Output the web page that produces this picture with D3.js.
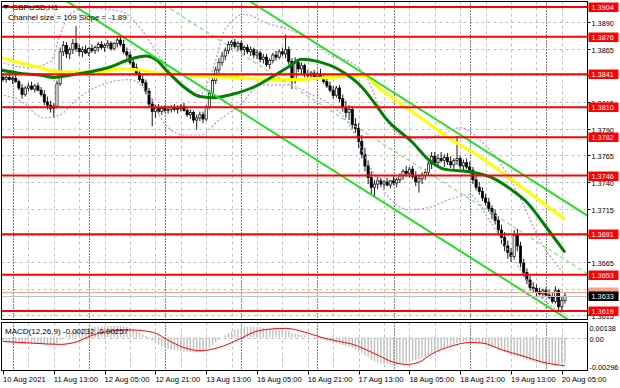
<!DOCTYPE html>
<html><head><meta charset="utf-8">
<script src="https://cdn.jsdelivr.net/npm/d3@7"></script>
<style>body{margin:0;background:#fff}svg{display:block}text{font-family:"Liberation Sans",Arial,sans-serif;font-size:8px}.ax{font-size:7.3px}</style>
</head><body><svg id="c" width="620" height="388"></svg>
<script>
// ---------- DATA ----------
const openP=[1.3838,1.3836,1.3838,1.3836,1.3837,1.3834,1.3828,1.3822,1.3828,1.3830,1.3827,1.3830,1.3826,1.3822,1.3815,1.3812,1.3809,1.3811,1.3832,1.3862,1.3868,1.3860,1.3864,1.3870,1.3865,1.3862,1.3864,1.3861,1.3865,1.3863,1.3866,1.3869,1.3866,1.3868,1.3870,1.3865,1.3870,1.3873,1.3869,1.3862,1.3859,1.3852,1.3847,1.3842,1.3836,1.3833,1.3825,1.3813,1.3806,1.3809,1.3806,1.3809,1.3807,1.3808,1.3810,1.3808,1.3809,1.3811,1.3807,1.3803,1.3805,1.3798,1.3800,1.3803,1.3799,1.3810,1.3823,1.3835,1.3845,1.3852,1.3858,1.3863,1.3869,1.3871,1.3867,1.3870,1.3864,1.3866,1.3862,1.3864,1.3859,1.3861,1.3855,1.3857,1.3850,1.3854,1.3859,1.3857,1.3862,1.3860,1.3864,1.3853,1.3835,1.3852,1.3846,1.3849,1.3841,1.3840,1.3842,1.3839,1.3841,1.3838,1.3834,1.3830,1.3826,1.3821,1.3828,1.3818,1.3810,1.3805,1.3808,1.3794,1.3790,1.3778,1.3766,1.3755,1.3744,1.3735,1.3738,1.3741,1.3738,1.3740,1.3737,1.3741,1.3739,1.3742,1.3746,1.3750,1.3748,1.3752,1.3745,1.3740,1.3743,1.3746,1.3749,1.3757,1.3764,1.3758,1.3762,1.3760,1.3763,1.3759,1.3756,1.3760,1.3762,1.3755,1.3758,1.3754,1.3751,1.3742,1.3735,1.3731,1.3725,1.3721,1.3715,1.3710,1.3704,1.3695,1.3688,1.3680,1.3674,1.3670,1.3690,1.3680,1.3664,1.3655,1.3648,1.3641,1.3640,1.3637,1.3635,1.3638,1.3634,1.3632,1.3628,1.3638,1.3623,1.3629];
const highP=[1.3842,1.3840,1.3841,1.3839,1.3840,1.3836,1.3832,1.3830,1.3833,1.3834,1.3832,1.3833,1.3829,1.3826,1.3820,1.3816,1.3814,1.3835,1.3866,1.3872,1.3871,1.3866,1.3874,1.3886,1.3869,1.3867,1.3868,1.3866,1.3869,1.3868,1.3871,1.3872,1.3870,1.3873,1.3872,1.3871,1.3875,1.3876,1.3873,1.3866,1.3862,1.3855,1.3851,1.3846,1.3840,1.3836,1.3828,1.3818,1.3812,1.3813,1.3811,1.3812,1.3811,1.3812,1.3813,1.3812,1.3813,1.3814,1.3810,1.3808,1.3807,1.3803,1.3806,1.3806,1.3812,1.3826,1.3838,1.3848,1.3856,1.3862,1.3866,1.3872,1.3873,1.3874,1.3872,1.3872,1.3868,1.3869,1.3867,1.3866,1.3864,1.3863,1.3860,1.3860,1.3856,1.3861,1.3863,1.3864,1.3866,1.3878,1.3867,1.3856,1.3857,1.3855,1.3852,1.3851,1.3845,1.3844,1.3845,1.3843,1.3846,1.3841,1.3838,1.3834,1.3830,1.3830,1.3831,1.3822,1.3816,1.3812,1.3811,1.3800,1.3795,1.3784,1.3772,1.3760,1.3750,1.3742,1.3745,1.3744,1.3742,1.3744,1.3742,1.3745,1.3744,1.3748,1.3752,1.3755,1.3754,1.3755,1.3750,1.3746,1.3749,1.3752,1.3760,1.3768,1.3768,1.3766,1.3768,1.3766,1.3767,1.3764,1.3762,1.3783,1.3765,1.3761,1.3762,1.3759,1.3754,1.3746,1.3740,1.3735,1.3729,1.3725,1.3718,1.3714,1.3708,1.3700,1.3693,1.3685,1.3678,1.3695,1.3696,1.3684,1.3668,1.3659,1.3652,1.3646,1.3644,1.3641,1.3640,1.3641,1.3639,1.3636,1.3642,1.3640,1.3632,1.3636];
const lowP=[1.3834,1.3833,1.3835,1.3832,1.3833,1.3826,1.3818,1.3820,1.3825,1.3826,1.3824,1.3825,1.3820,1.3812,1.3808,1.3805,1.3800,1.3809,1.3830,1.3858,1.3856,1.3855,1.3860,1.3862,1.3858,1.3857,1.3860,1.3858,1.3861,1.3860,1.3862,1.3864,1.3862,1.3865,1.3863,1.3863,1.3866,1.3867,1.3860,1.3856,1.3850,1.3844,1.3840,1.3834,1.3830,1.3822,1.3810,1.3792,1.3800,1.3804,1.3803,1.3805,1.3804,1.3805,1.3806,1.3804,1.3806,1.3806,1.3801,1.3799,1.3795,1.3789,1.3797,1.3795,1.3797,1.3808,1.3820,1.3832,1.3842,1.3849,1.3854,1.3860,1.3864,1.3865,1.3863,1.3862,1.3859,1.3860,1.3858,1.3856,1.3855,1.3852,1.3851,1.3848,1.3846,1.3851,1.3854,1.3855,1.3858,1.3856,1.3850,1.3827,1.3832,1.3843,1.3841,1.3838,1.3836,1.3836,1.3837,1.3835,1.3837,1.3832,1.3828,1.3824,1.3818,1.3819,1.3815,1.3806,1.3800,1.3798,1.3790,1.3786,1.3772,1.3762,1.3750,1.3738,1.3728,1.3725,1.3733,1.3735,1.3734,1.3736,1.3734,1.3737,1.3735,1.3739,1.3742,1.3745,1.3744,1.3743,1.3736,1.3730,1.3738,1.3742,1.3746,1.3752,1.3755,1.3754,1.3758,1.3754,1.3756,1.3753,1.3752,1.3756,1.3752,1.3751,1.3752,1.3748,1.3738,1.3732,1.3728,1.3722,1.3718,1.3712,1.3705,1.3700,1.3690,1.3682,1.3675,1.3668,1.3665,1.3668,1.3675,1.3660,1.3651,1.3644,1.3638,1.3636,1.3633,1.3632,1.3631,1.3632,1.3630,1.3626,1.3626,1.3618,1.3620,1.3626];
const closeP=[1.3836,1.3838,1.3836,1.3837,1.3834,1.3828,1.3822,1.3828,1.3830,1.3827,1.3830,1.3826,1.3822,1.3815,1.3812,1.3809,1.3811,1.3832,1.3862,1.3868,1.3860,1.3864,1.3870,1.3865,1.3862,1.3864,1.3861,1.3865,1.3863,1.3866,1.3869,1.3866,1.3868,1.3870,1.3865,1.3870,1.3873,1.3869,1.3862,1.3859,1.3852,1.3847,1.3842,1.3836,1.3833,1.3825,1.3813,1.3806,1.3809,1.3806,1.3809,1.3807,1.3808,1.3810,1.3808,1.3809,1.3811,1.3807,1.3803,1.3805,1.3798,1.3800,1.3803,1.3799,1.3810,1.3823,1.3835,1.3845,1.3852,1.3858,1.3863,1.3869,1.3871,1.3867,1.3870,1.3864,1.3866,1.3862,1.3864,1.3859,1.3861,1.3855,1.3857,1.3850,1.3854,1.3859,1.3857,1.3862,1.3860,1.3864,1.3853,1.3835,1.3852,1.3846,1.3849,1.3841,1.3840,1.3842,1.3839,1.3841,1.3838,1.3834,1.3830,1.3826,1.3821,1.3828,1.3818,1.3810,1.3805,1.3808,1.3794,1.3790,1.3778,1.3766,1.3755,1.3744,1.3735,1.3738,1.3741,1.3738,1.3740,1.3737,1.3741,1.3739,1.3742,1.3746,1.3750,1.3748,1.3752,1.3745,1.3740,1.3743,1.3746,1.3749,1.3757,1.3764,1.3758,1.3762,1.3760,1.3763,1.3759,1.3756,1.3760,1.3762,1.3755,1.3758,1.3754,1.3751,1.3742,1.3735,1.3731,1.3725,1.3721,1.3715,1.3710,1.3704,1.3695,1.3688,1.3680,1.3674,1.3670,1.3690,1.3680,1.3664,1.3655,1.3648,1.3641,1.3640,1.3637,1.3635,1.3638,1.3634,1.3632,1.3628,1.3638,1.3623,1.3629,1.3633];

const macdMain=[-0.00040,-0.00042,-0.00045,-0.00048,-0.00050,-0.00055,-0.00060,-0.00062,-0.00060,-0.00060,-0.00058,-0.00058,-0.00060,-0.00064,-0.00068,-0.00070,-0.00068,-0.00055,-0.00025,0.00005,0.00025,0.00040,0.00055,0.00068,0.00075,0.00080,0.00084,0.00088,0.00092,0.00096,0.00100,0.00102,0.00104,0.00106,0.00105,0.00106,0.00108,0.00108,0.00104,0.00098,0.00088,0.00076,0.00062,0.00046,0.00030,0.00014,-0.00005,-0.00028,-0.00050,-0.00066,-0.00080,-0.00092,-0.00102,-0.00110,-0.00116,-0.00120,-0.00124,-0.00128,-0.00130,-0.00132,-0.00134,-0.00136,-0.00132,-0.00126,-0.00112,-0.00092,-0.00068,-0.00044,-0.00020,0.00002,0.00022,0.00040,0.00056,0.00070,0.00080,0.00088,0.00094,0.00098,0.00100,0.00100,0.00098,0.00094,0.00088,0.00082,0.00076,0.00072,0.00068,0.00066,0.00064,0.00064,0.00058,0.00042,0.00036,0.00030,0.00024,0.00016,0.00008,0.00002,-0.00004,-0.00010,-0.00016,-0.00022,-0.00030,-0.00038,-0.00046,-0.00050,-0.00058,-0.00068,-0.00078,-0.00086,-0.00098,-0.00110,-0.00126,-0.00144,-0.00162,-0.00182,-0.00204,-0.00218,-0.00228,-0.00236,-0.00242,-0.00246,-0.00248,-0.00250,-0.00248,-0.00244,-0.00238,-0.00230,-0.00222,-0.00214,-0.00206,-0.00198,-0.00188,-0.00176,-0.00162,-0.00146,-0.00132,-0.00120,-0.00108,-0.00096,-0.00084,-0.00074,-0.00064,-0.00050,-0.00042,-0.00036,-0.00032,-0.00030,-0.00034,-0.00042,-0.00050,-0.00058,-0.00066,-0.00076,-0.00086,-0.00096,-0.00108,-0.00120,-0.00134,-0.00148,-0.00160,-0.00166,-0.00172,-0.00182,-0.00192,-0.00202,-0.00212,-0.00222,-0.00230,-0.00236,-0.00240,-0.00244,-0.00246,-0.00248,-0.00246,-0.00246,-0.00240,-0.00232];
const signalBars=[0,9,18,23,28,34,40,47,53,58,62,68,74,79,85,89,95,100,105,110,118,123,127,131,135,141,147,151,157,164,170,177];
const signalVals=[-0.00036,-0.00050,-0.00062,-0.00040,0.00020,0.00060,0.00070,0.00050,-0.00040,-0.00100,-0.00120,-0.00090,-0.00020,0.00050,0.00080,0.00085,0.00050,0.00005,-0.00030,-0.00060,-0.00160,-0.00225,-0.00245,-0.00225,-0.00150,-0.00080,-0.00045,-0.00050,-0.00110,-0.00170,-0.00225,-0.00257];

// moving averages (bar index, price)
const maSlowBars=[-1,5,12,18,24,30,37,43,49,56,62,74,84,93,103,109,114,118,125,133,140,150,162,177];
const maSlowVals=[1.3857,1.3852,1.3847,1.3843,1.3843,1.3843,1.3846,1.3845,1.3842,1.3841,1.3839,1.3838,1.3836,1.3836,1.3838,1.3839,1.3839,1.3829,1.3814,1.3797,1.3782,1.3764,1.3738,1.3705];
const maFastBars=[-1,5,12,16,21,27,34,40,45,48,52,57,62,66,72,79,85,90,94,99,106,113,117,121,129,134,139,148,154,160,165,171,177];
const maFastVals=[1.3845,1.3842,1.3840,1.3838,1.3840,1.3843,1.3848,1.3855,1.3858,1.3855,1.3843,1.3829,1.3820,1.3819,1.3822,1.3829,1.3839,1.3848,1.3855,1.3853,1.3845,1.3829,1.3814,1.3798,1.3777,1.3761,1.3752,1.3749,1.3744,1.3733,1.3721,1.3698,1.3674];
const bandUpBars=[-1,8,15,18,21,27,37,43,49,56,62,66,70,76,84,90,97,103,109,114,119,125,131,138,144,150,157,163,169,177];
const bandUpVals=[1.3853,1.3847,1.3853,1.3878,1.3897,1.3903,1.3900,1.3885,1.3859,1.3831,1.3822,1.3845,1.3883,1.3897,1.3888,1.3883,1.3873,1.3859,1.3853,1.3841,1.3808,1.3784,1.3780,1.3784,1.3791,1.3780,1.3756,1.3724,1.3686,1.3653];
const bandLoBars=[-1,5,13,18,23,31,40,46,51,57,62,68,75,81,90,97,103,109,116,122,128,134,141,147,153,160,166,172,177];
const bandLoVals=[1.3822,1.3817,1.3800,1.3803,1.3817,1.3831,1.3836,1.3822,1.3794,1.3784,1.3784,1.3798,1.3813,1.3831,1.3831,1.3822,1.3813,1.3794,1.3752,1.3724,1.3714,1.3716,1.3724,1.3728,1.3705,1.3672,1.3644,1.3625,1.3616];

// regression channel: two anchor bars, upper-line prices, width
const chanBars=[-5,185];
const chanUpper=[1.40658,1.37067];
const chanWidth=0.0109;

const levels=[1.3904,1.3876,1.3841,1.3810,1.3782,1.3746,1.3691,1.3653,1.3619];
const priceTicks=[1.3890,1.3865,1.3840,1.3815,1.3790,1.3765,1.3740,1.3715,1.3690,1.3665,1.3640,1.3615];
const bidPrice=1.3633, askPrice=1.3637;
const timeLabels=["10 Aug 2021","11 Aug 13:00","12 Aug 05:00","12 Aug 21:00","13 Aug 13:00","16 Aug 05:00","16 Aug 21:00","17 Aug 13:00","18 Aug 05:00","18 Aug 21:00","19 Aug 13:00","20 Aug 05:00"];
const timeBars=[0,16,32,48,64,80,96,112,128,144,160,176];
const gridBars=[8,16,24,32,40,48,56,64,72,80,88,96,104,112,120,128,136,144,152,160,168,176];
const dayBars=[3,27,51,75,99,123,147,171];
const macdLabels=["0.00138","0.00","-0.00296"];

// ---------- DRAW ----------
const svg=d3.select("#c");
const L=1.5,R=587.5,mT=1.5,mB=319.5,dT=322.5,dB=370.5;
const x=d3.scaleLinear().domain([0,177]).range([3,3+177*3.175]);
const y=d3.scaleLinear().domain([1.3619,1.3904]).range([311,7]);
const ym=d3.scaleLinear().domain([-0.00296,0.00138]).range([370,322.5]);
const defs=svg.append("defs");
defs.append("clipPath").attr("id","cm").append("rect").attr("x",L).attr("y",mT).attr("width",R-L).attr("height",mB-mT);
defs.append("clipPath").attr("id","cd").append("rect").attr("x",L).attr("y",dT).attr("width",R-L).attr("height",dB-dT);
svg.append("rect").attr("width",620).attr("height",388).attr("fill","#fff");
const gm=svg.append("g").attr("clip-path","url(#cm)");
const gd=svg.append("g").attr("clip-path","url(#cd)");
const px=v=>Math.round(v)+0.5;

// grid
gm.selectAll(".hg").data(priceTicks).join("line").attr("x1",L).attr("x2",R).attr("y1",d=>px(y(d))).attr("y2",d=>px(y(d))).attr("stroke","#c0c0c0").attr("stroke-dasharray","3,3");
gm.selectAll(".vg").data(gridBars).join("line").attr("x1",d=>px(x(d))).attr("x2",d=>px(x(d))).attr("y1",mT).attr("y2",mB).attr("stroke","#c0c0c0").attr("stroke-dasharray","3,3");
gd.selectAll(".vg").data(gridBars).join("line").attr("x1",d=>px(x(d))).attr("x2",d=>px(x(d))).attr("y1",dT).attr("y2",dB).attr("stroke","#c0c0c0").attr("stroke-dasharray","3,3");
gd.append("line").attr("x1",L).attr("x2",R).attr("y1",px(ym(0))).attr("y2",px(ym(0))).attr("stroke","#c0c0c0").attr("stroke-dasharray","3,3");
[gm,gd].forEach((g,k)=>g.selectAll(".sep").data(dayBars).join("line").attr("x1",d=>px(x(d))).attr("x2",d=>px(x(d))).attr("y1",k?dT:mT).attr("y2",k?dB:mB).attr("stroke","#000").attr("stroke-dasharray","1,2"));

// candles
const idx=d3.range(closeP.length);
gm.selectAll(".wick").data(idx).join("line").attr("x1",i=>x(i)).attr("x2",i=>x(i)).attr("y1",i=>y(highP[i])).attr("y2",i=>y(lowP[i])).attr("stroke","#000").attr("stroke-width",0.9);
gm.selectAll(".body").data(idx).join("rect").attr("x",i=>x(i)-1.1).attr("width",2.2)
  .attr("y",i=>y(Math.max(openP[i],closeP[i]))).attr("height",i=>Math.max(0.8,Math.abs(y(openP[i])-y(closeP[i]))))
  .attr("fill",i=>closeP[i]>=openP[i]?"#fff":"#000").attr("stroke","#000").attr("stroke-width",0.7);

// bands
const ln=(bars,vals,sc)=>d3.line().x((d,i)=>x(bars[i])).y(d=>sc(d)).curve(d3.curveMonotoneX)(vals);
[[bandUpBars,bandUpVals],[bandLoBars,bandLoVals]].forEach(([b,v])=>gm.append("path").attr("d",ln(b,v,y)).attr("fill","none").attr("stroke","#c58be8").attr("stroke-width",1.2).attr("stroke-dasharray","2,2"));
// MAs
gm.append("path").attr("d",ln(maSlowBars,maSlowVals,y)).attr("fill","none").attr("stroke","#ffff00").attr("stroke-width",3);
gm.append("path").attr("d",ln(maFastBars,maFastVals,y)).attr("fill","none").attr("stroke","#008000").attr("stroke-width",3);
// channel
const chan=(off,dash,col,w)=>gm.append("line").attr("x1",x(chanBars[0])).attr("x2",x(chanBars[1])).attr("y1",y(chanUpper[0]-off)).attr("y2",y(chanUpper[1]-off)).attr("stroke",col).attr("stroke-width",w).attr("stroke-dasharray",dash);
chan(0,null,"#22e022",2); chan(chanWidth/2,"4,3","#7fe57f",1.2); chan(chanWidth,null,"#22e022",2);
// levels
gm.append("line").attr("x1",L).attr("x2",R).attr("y1",px(y(askPrice))).attr("y2",px(y(askPrice))).attr("stroke","#f7a58a").attr("stroke-width",1);
gm.append("line").attr("x1",L).attr("x2",R).attr("y1",px(y(bidPrice))).attr("y2",px(y(bidPrice))).attr("stroke","#c0c0c0").attr("stroke-width",1);
gm.selectAll(".lv").data(levels).join("line").attr("x1",L).attr("x2",R).attr("y1",d=>y(d)).attr("y2",d=>y(d)).attr("stroke","#ff0000").attr("stroke-width",2);

// MACD
gd.selectAll(".hb").data(idx).join("line").attr("x1",i=>x(i)).attr("x2",i=>x(i)).attr("y1",ym(0)).attr("y2",i=>ym(macdMain[i])).attr("stroke","#c0c0c0").attr("stroke-width",1.4);
gd.append("path").attr("d",ln(signalBars,signalVals,ym)).attr("fill","none").attr("stroke","#ff0000").attr("stroke-width",1);

// frames
svg.append("rect").attr("x",L).attr("y",mT).attr("width",R-L).attr("height",mB-mT).attr("fill","none").attr("stroke","#000");
svg.append("rect").attr("x",L).attr("y",dT).attr("width",R-L).attr("height",dB-dT).attr("fill","none").attr("stroke","#000");

// right axis (labels fully hidden by a level tag are not drawn)
const shown=priceTicks.filter(t=>!levels.some(l=>Math.abs(y(l)-y(t))<3));
svg.selectAll(".pt").data(priceTicks).join("line").attr("x1",R).attr("x2",R+3).attr("y1",d=>px(y(d))).attr("y2",d=>px(y(d))).attr("stroke","#000");
svg.selectAll(".pl").data(shown).join("text").attr("class","ax").attr("x",R+4).attr("y",d=>y(d)+4).text(d=>d.toFixed(4)).attr("fill","#000");
svg.selectAll(".ml").data(macdLabels).join("text").attr("class","ax").attr("x",R+2).attr("y",(d,i)=>[331,342,370][i]).text(d=>d).attr("fill","#000");
const tag=(v,fill)=>{const yy=Math.round(y(v));svg.append("rect").attr("x",R+1).attr("y",yy-4.5).attr("width",30).attr("height",9.5).attr("fill",fill);
  svg.append("text").attr("class","ax").attr("x",R+4).attr("y",yy+3).text(v.toFixed(4)).attr("fill","#fff");};
svg.append("rect").attr("x",R+1).attr("y",Math.round(y(askPrice))-4.5).attr("width",30).attr("height",9.5).attr("fill","#f7a58a");
levels.forEach(v=>tag(v,"#ff0000"));
tag(bidPrice,"#000");

// time axis
svg.selectAll(".tt").data(timeBars).join("line").attr("x1",d=>px(x(d))).attr("x2",d=>px(x(d))).attr("y1",dB).attr("y2",dB+4).attr("stroke","#000");
svg.selectAll(".tl").data(timeLabels).join("text").attr("x",(d,i)=>x(timeBars[i])).attr("y",382).text(d=>d).attr("fill","#000").style("font-size","7.6px");

// headers
svg.append("path").attr("d","M3,5 L9,5 L6,9 Z").attr("fill","#000");
svg.append("text").attr("x",12).attr("y",10).text("GBPUSD,H1").attr("fill","#000");
svg.append("text").attr("x",8).attr("y",20).text("Channel size = 109 Slope = -1.89").attr("fill","#000");
svg.append("text").attr("x",5).attr("y",334).text("MACD(12,26,9) -0.00232 -0.00257").attr("fill","#000");
</script></body></html>
